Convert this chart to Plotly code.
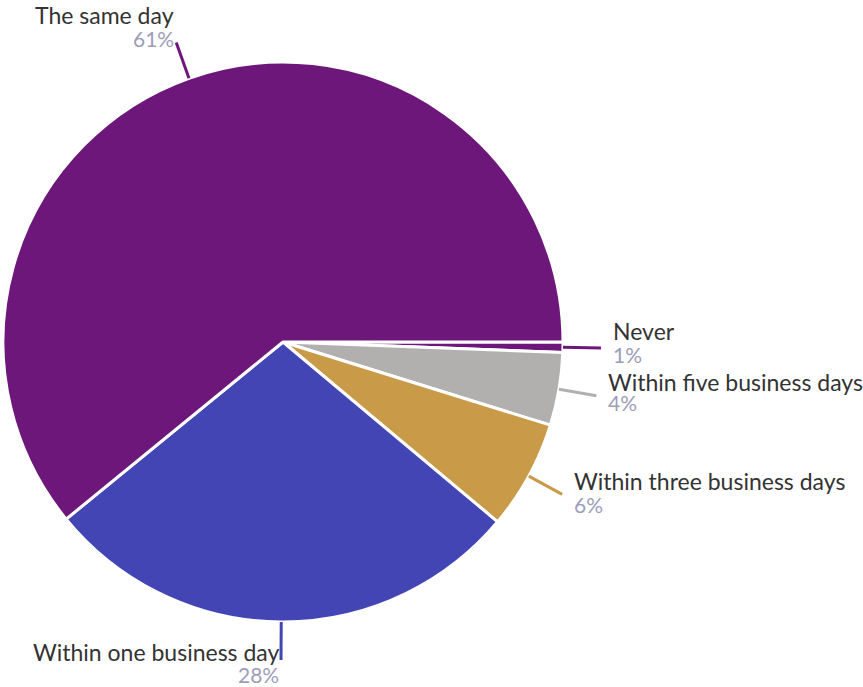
import math
import plotly.graph_objects as go

# ---- data ----
categories = ["The same day", "Within one business day", "Within three business days",
              "Within five business days", "Never"]
values = [60.9, 28.0, 6.3, 4.2, 0.6]
colors = ["#6c1779", "#4345b4", "#c99a48", "#b2afaf", "#6c1779"]

# ---- layout constants (pixels, page coordinates) ----
W, H = 863, 687
CX, CY, R = 283, 342, 280
LEAD = 38

# per-label text placement relative to leader end: (side, label dy, pct dy)
placement = {
    "The same day": ("left", -27, -4),
    "Within one business day": ("left", -8, 15),
    "Within three business days": ("right", -13, 10),
    "Within five business days": ("right", -14, 7),
    "Never": ("right", -17, 7),
}

LABEL_COLOR = "#333333"
PCT_COLOR = "#9d9db8"
FONT = "Lato"

fig = go.Figure()
# slices run counterclockwise from 3 o'clock in data order; plotly draws them
# clockwise from 3 o'clock in reversed order, which is the same arrangement
fig.add_trace(go.Pie(
    labels=categories[::-1],
    values=values[::-1],
    marker=dict(colors=colors[::-1], line=dict(color="white", width=3)),
    sort=False,
    direction="clockwise",
    rotation=90,
    textinfo="none",
    hoverinfo="label+percent",
    showlegend=False,
    domain=dict(x=[(CX - R) / W, (CX + R) / W],
                y=[1 - (CY + R) / H, 1 - (CY - R) / H]),
))

def px(x):
    return x / W

def py(y):
    return 1 - y / H

total = sum(values)
cum = 0.0
shapes = []
annotations = []
for cat, v, col in zip(categories, values, colors):
    start = cum / total * 360
    cum += v
    end = cum / total * 360
    mid = math.radians((start + end) / 2)
    x0 = CX + R * math.cos(mid)
    y0 = CY - R * math.sin(mid)
    x1 = CX + (R + LEAD) * math.cos(mid)
    y1 = CY - (R + LEAD) * math.sin(mid)
    shapes.append(dict(type="line", xref="paper", yref="paper",
                       x0=px(x0), y0=py(y0), x1=px(x1), y1=py(y1),
                       line=dict(color=col, width=3)))
    side, dyl, dyp = placement[cat]
    if side == "right":
        tx, anchor = x1 + 10, "left"
    else:
        tx, anchor = x1, "right"
    pct = f"{round(v / total * 100)}%"
    annotations.append(dict(x=px(tx), y=py(y1 + dyl), xref="paper", yref="paper",
                            text=cat, showarrow=False, xanchor=anchor, yanchor="middle",
                            font=dict(family=FONT, size=23, color=LABEL_COLOR)))
    annotations.append(dict(x=px(tx), y=py(y1 + dyp), xref="paper", yref="paper",
                            text=pct, showarrow=False, xanchor=anchor, yanchor="middle",
                            font=dict(family=FONT, size=21, color=PCT_COLOR)))

fig.update_layout(
    width=W, height=H,
    margin=dict(l=0, r=0, t=0, b=0),
    paper_bgcolor="white",
    plot_bgcolor="white",
    shapes=shapes,
    annotations=annotations,
)

fig.write_html("out.html", config={"displayModeBar": False},
               post_script="document.body.style.margin='0';")
